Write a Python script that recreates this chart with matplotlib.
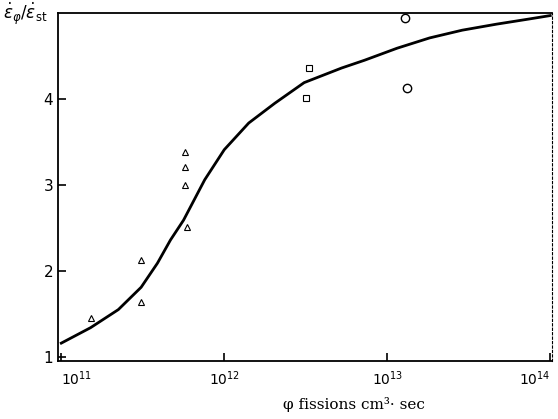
import numpy as np
import matplotlib
matplotlib.use("Agg")
import matplotlib.pyplot as plt

# fission rate given as log10(phi), ratio of creep rates
curve_logphi = [11.00, 11.18, 11.35, 11.49, 11.59, 11.67, 11.75, 11.88, 12.00, 12.15,
                12.31, 12.49, 12.72, 12.86, 13.06, 13.26, 13.46, 13.67, 13.87, 14.00]
curve_ratio = [1.16, 1.34, 1.55, 1.81, 2.09, 2.36, 2.59, 3.06, 3.41, 3.72,
               3.95, 4.19, 4.36, 4.45, 4.59, 4.71, 4.80, 4.87, 4.93, 4.97]

tri_logphi = [11.18, 11.49, 11.49, 11.76, 11.76, 11.76, 11.77]
tri_ratio = [1.45, 2.13, 1.64, 3.38, 3.21, 3.00, 2.51]

sq_logphi = [12.52, 12.50]
sq_ratio = [4.36, 4.01]

circ_logphi = [13.11, 13.12]
circ_ratio = [4.94, 4.13]

xticks = [1e11, 1e12, 1e13, 1e14]
xticklabels = [r'$10^{11}$', r'$10^{12}$', r'$10^{13}$', r'$10^{14}$']
yticks = [1, 2, 3, 4]

plt.rcParams['mathtext.default'] = 'it'

fig = plt.figure(figsize=(5.58, 4.19), dpi=100)
ax = fig.add_axes([0.104, 0.138, 0.885, 0.831])

ax.plot(10 ** np.array(curve_logphi), curve_ratio, color='black', linewidth=2)

ax.plot(10 ** np.array(tri_logphi), tri_ratio, linestyle='none', marker='^',
        markersize=5, markerfacecolor='white', markeredgecolor='black', markeredgewidth=0.8)
ax.plot(10 ** np.array(sq_logphi), sq_ratio, linestyle='none', marker='s',
        markersize=5, markerfacecolor='white', markeredgecolor='black', markeredgewidth=0.8)
ax.plot(10 ** np.array(circ_logphi), circ_ratio, linestyle='none', marker='o',
        markersize=6, markerfacecolor='white', markeredgecolor='black', markeredgewidth=1.0)

ax.set_xscale('log')
ax.set_xlim(10 ** 10.98, 10 ** 14.01)
ax.set_ylim(0.95, 5.0)

ax.set_xticks(xticks)
ax.set_xticklabels(xticklabels, fontsize=10)
ax.xaxis.set_minor_locator(matplotlib.ticker.NullLocator())
labels = ax.get_xticklabels()
labels[0].set_horizontalalignment('left')
labels[-1].set_horizontalalignment('right')
ax.set_yticks(yticks)
ax.set_yticklabels([str(v) for v in yticks], fontsize=11)
ax.tick_params(direction='in', length=6, width=1.2, colors='black')
ax.tick_params(axis='x', pad=6)

for side in ['left', 'bottom', 'top']:
    ax.spines[side].set_linewidth(1.3)
ax.spines['right'].set_linewidth(0.8)
ax.spines['right'].set_linestyle((0, (2, 2)))

fig.text(0.005, 0.955, r'$\dot{\varepsilon}_{\varphi}/\dot{\varepsilon}_{\rm st}$', fontsize=12)
fig.text(0.635, 0.025, 'φ fissions cm³· sec', fontsize=11, ha='center',
         family='DejaVu Serif')

fig.savefig('out.png', dpi=100)
